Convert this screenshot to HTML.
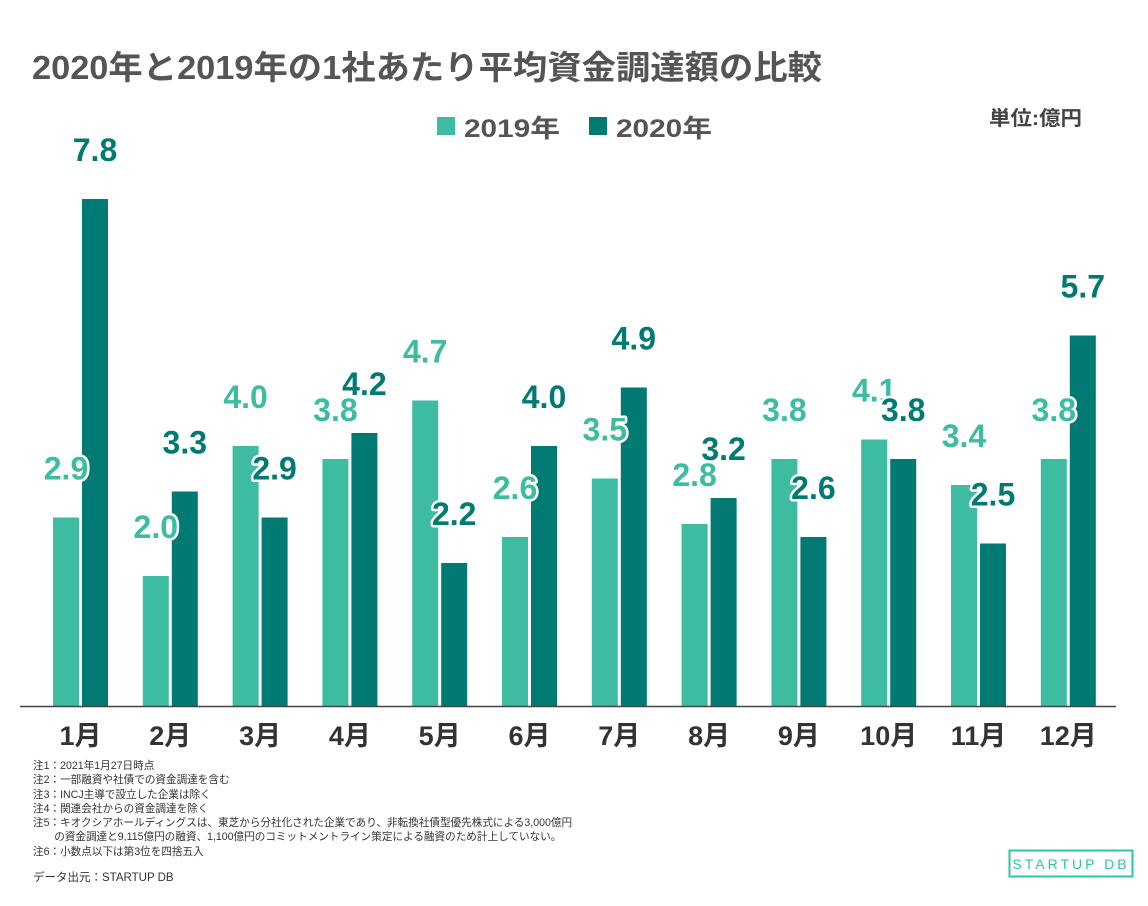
<!DOCTYPE html>
<html><head><meta charset="utf-8"><style>
body{margin:0;background:#fff;width:1148px;height:906px;overflow:hidden;font-family:"Liberation Sans","Noto Sans CJK JP",sans-serif}
.notes{position:absolute;left:33px;top:759px;font-size:10.6px;line-height:14.3px;color:#333}
</style></head><body>
<svg width="1148" height="906" style="position:absolute;left:0;top:0">
<text x="32" y="79" font-size="33" font-weight="bold" fill="#555" textLength="790" lengthAdjust="spacingAndGlyphs" font-family="Liberation Sans,Noto Sans CJK JP,sans-serif">2020年と2019年の1社あたり平均資金調達額の比較</text>
<g>
<rect x="437" y="117" width="18" height="18" fill="#3dbca2"/>
<text x="464" y="137" font-size="25" font-weight="bold" fill="#555" textLength="96" lengthAdjust="spacingAndGlyphs" font-family="Liberation Sans,Noto Sans CJK JP,sans-serif">2019年</text>
<rect x="589" y="117" width="18" height="18" fill="#007a72"/>
<text x="616" y="137" font-size="25" font-weight="bold" fill="#555" textLength="96" lengthAdjust="spacingAndGlyphs" font-family="Liberation Sans,Noto Sans CJK JP,sans-serif">2020年</text>
</g>
<text x="989" y="125" font-size="20" font-weight="bold" fill="#444" textLength="93" lengthAdjust="spacingAndGlyphs" font-family="Liberation Sans,Noto Sans CJK JP,sans-serif">単位:億円</text>
<g id="bars"></g>
<line x1="20" y1="706.5" x2="1116" y2="706.5" stroke="#444" stroke-width="1.5"/>
<g>
<rect x="1009.5" y="850.5" width="123" height="26" fill="none" stroke="#2ec4aa" stroke-width="2"/>
<text x="1071" y="869" text-anchor="middle" font-size="14" fill="#2ec4aa" letter-spacing="3" font-family="Liberation Sans,sans-serif">STARTUP DB</text>
</g>
</svg>
<div class="notes">注1：2021年1月27日時点<br>注2：一部融資や社債での資金調達を含む<br>注3：INCJ主導で設立した企業は除く<br>注4：関連会社からの資金調達を除く<br>注5：キオクシアホールディングスは、東芝から分社化された企業であり、非転換社債型優先株式による3,000億円<br>&emsp;&emsp;の資金調達と9,115億円の融資、1,100億円のコミットメントライン策定による融資のため計上していない。<br>注6：小数点以下は第3位を四捨五入<br><div style="margin-top:12px;font-size:11.5px">データ出元：STARTUP DB</div></div>
<script>
const months=["1月","2月","3月","4月","5月","6月","7月","8月","9月","10月","11月","12月"];
const v2019=[2.9,2.0,4.0,3.8,4.7,2.6,3.5,2.8,3.8,4.1,3.4,3.8];
const v2020=[7.8,3.3,2.9,4.2,2.2,4.0,4.9,3.2,2.6,3.8,2.5,5.7];
const NS="http://www.w3.org/2000/svg";
const g=document.getElementById('bars');
const base=706,k=65,x0=80.5,step=89.8,bw=26;
const y=v=>base-v*k;
const cx=i=>x0+i*step;
const F="Liberation Sans,Noto Sans CJK JP,sans-serif";
function mk(t,a){const e=document.createElementNS(NS,t);for(const n in a)e.setAttribute(n,a[n]);g.appendChild(e);return e;}
const labels=[];
months.forEach((m,i)=>{
 [[v2019,'#3dbca2',-bw-1.5,'2019'],[v2020,'#007a72',1.5,'2020']].forEach(([arr,c,off,s])=>{
  const r=mk('rect',{x:cx(i)+off,y:y(arr[i]),width:bw,height:base-y(arr[i]),fill:c});
  
  
  labels.push([cx(i)+off+bw/2,y(arr[i])-38,arr[i].toFixed(1),c,s,i]);
 });
 const t=mk('text',{x:cx(i),y:745,'text-anchor':'middle','font-size':27,'font-weight':'bold',fill:'#333','font-family':F});
 t.textContent=m;
 
 
});
labels.forEach(([x,yy,s,c,ser,i])=>{
 const t=mk('text',{x:x,y:yy,'text-anchor':'middle','font-size':32,'font-weight':'bold',fill:c,stroke:'#fff','stroke-width':5,'paint-order':'stroke','stroke-linejoin':'round','font-family':F});
 t.textContent=s;
 
 
});
</script>
</body></html>
